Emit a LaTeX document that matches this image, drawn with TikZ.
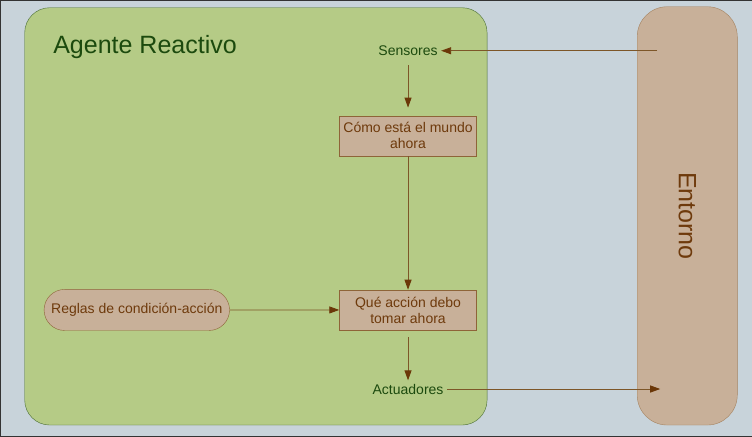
\documentclass[tikz,border=0pt]{standalone}
\usepackage{fontspec}
\setmainfont{Liberation Sans}
\usetikzlibrary{positioning, arrows.meta, shapes.misc}

\definecolor{fondo}{HTML}{C8D3DA}
\definecolor{verdeagente}{HTML}{B5CB86}
\definecolor{bordeagente}{HTML}{4A6E35}
\definecolor{textoverde}{HTML}{1C4A0E}
\definecolor{cafecaja}{HTML}{C8B099}
\definecolor{bordecaja}{HTML}{8E6438}
\definecolor{textocafe}{HTML}{6E3A0C}
\definecolor{linea}{HTML}{7D5628}
\definecolor{punta}{HTML}{6B3708}

\tikzset{
x=1pt, y=-1pt, % one unit per pixel, y running down
>={Triangle[length=10pt, width=7pt, color=punta]}, % filled arrow heads
every node/.style={font=\fontsize{14}{16}\selectfont}, % default text size
flujo/.style={->, draw=linea, line width=0.9pt}, % the connectors
caja/.style={draw=bordecaja, fill=cafecaja, text=textocafe, minimum width=137pt, minimum height=40pt, align=center, inner sep=2pt}, % inner steps
regla/.style={rounded rectangle, draw=bordecaja, fill=cafecaja, text=textocafe, minimum width=192pt, minimum height=41pt}, % the rules pill
puerto/.style={text=textoverde}, % sensors and actuators
}

\begin{document}
\begin{tikzpicture}
    \draw[draw=black!80, fill=fondo] (0.5,0.5) rectangle (751.5,436.5);
    \node[draw=bordeagente, fill=verdeagente, rounded corners=25pt, minimum width=462pt, minimum height=417pt] (agente) at (256,216.5) {};
    \node[text=textoverde, font=\fontsize{25}{28}\selectfont, anchor=west] (titulo) at (50,47) {Agente Reactivo};
    \node[draw=bordecaja!80, fill=cafecaja, text=textocafe, rounded corners=30pt, rotate=-90, minimum width=418pt, minimum height=100pt, font=\fontsize{25}{28}\selectfont] (entorno) at (687,216) {Entorno};

    \node[puerto] (sensores) at (408,51) {Sensores};
    \node[caja] (mundo) at (408,136) {Cómo está el mundo\\ahora};
    \node[caja] (accion) at (408,310) {Qué acción debo\\tomar ahora};
    \node[regla] (reglas) at (137,310) {Reglas de condición-acción};
    \node[puerto] (actuadores) at (408,389) {Actuadores};
    \coordinate (percibe) at (657,51);
    \coordinate (actua) at (660,389);

    \draw[flujo] (percibe) -- (sensores);
    \draw[flujo, shorten <=6pt, shorten >=8pt] (sensores) -- (mundo);
    \draw[flujo] (mundo) -- (accion);
    \draw[flujo] (reglas) -- (accion);
    \draw[flujo, shorten <=7pt] (accion) -- (actuadores);
    \draw[flujo] (actuadores) -- (actua);
\end{tikzpicture}
\end{document}
